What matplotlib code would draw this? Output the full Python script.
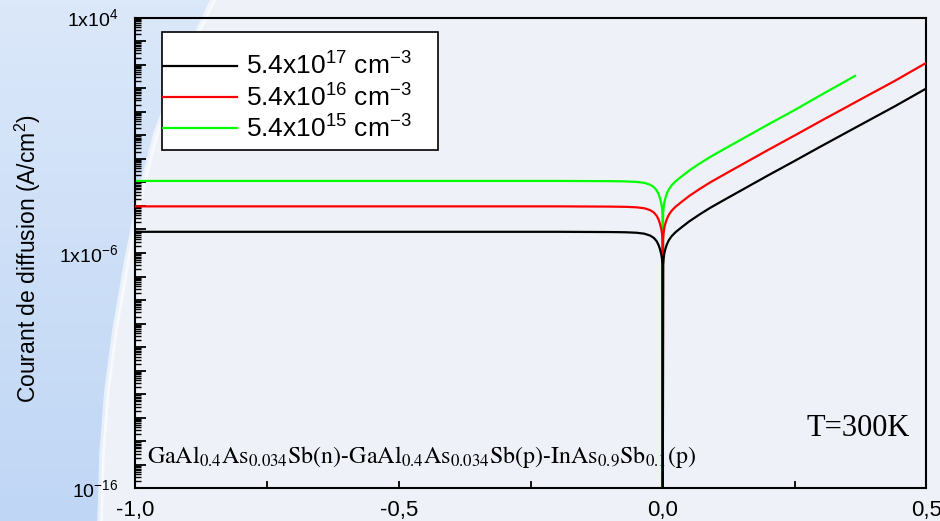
import numpy as np
import matplotlib
matplotlib.use('Agg')
import matplotlib.pyplot as plt
from matplotlib.patches import Polygon, Rectangle
from matplotlib.ticker import LogLocator, NullFormatter

plt.rcParams['font.family'] = 'Liberation Sans'
plt.rcParams['mathtext.fontset'] = 'custom'
plt.rcParams['mathtext.rm'] = 'Liberation Sans'
plt.rcParams['mathtext.it'] = 'Liberation Sans:italic'
plt.rcParams['mathtext.bf'] = 'Liberation Sans:bold'

# bias voltage (V)
v = [-1.0, -0.5, -0.2, -0.1, -0.07, -0.05, -0.035, -0.024, -0.017, -0.0116, -0.008,
     -0.0053, -0.003, -0.0015, -0.0006, 0.0, 0.0006, 0.0015, 0.003, 0.0053, 0.008,
     0.0116, 0.017, 0.024, 0.035, 0.05, 0.07, 0.09, 0.12, 0.16, 0.2, 0.25, 0.3,
     0.374, 0.44, 0.5]
v_15 = v[:33] + [0.3645]

# log10 of |J| (A/cm2); -17.5 marks the zero crossing (off the axis)
logj_17 = [-5.10, -5.10, -5.10, -5.11, -5.12, -5.14, -5.18, -5.26, -5.36, -5.50, -5.66,
           -5.84, -6.05, -6.25, -6.5, -17.5, -6.5, -6.25, -6.0, -5.8, -5.62,
           -5.45, -5.28, -5.12, -4.92, -4.66, -4.36, -4.08, -3.70, -3.20, -2.70, -2.09, -1.47,
           -0.57, 0.23, 0.99]
logj_16 = [-4.02, -4.02, -4.02, -4.03, -4.04, -4.06, -4.10, -4.18, -4.28, -4.42, -4.58,
           -4.76, -4.97, -5.17, -5.42, -17.5, -5.42, -5.17, -4.92, -4.72, -4.54,
           -4.37, -4.20, -4.04, -3.84, -3.58, -3.28, -3.00, -2.62, -2.12, -1.62, -1.01, -0.39,
           0.51, 1.31, 2.08]
logj_15 = [-2.94, -2.94, -2.94, -2.95, -2.96, -2.98, -3.02, -3.10, -3.20, -3.34, -3.50,
           -3.68, -3.89, -4.09, -4.34, -17.5, -4.34, -4.09, -3.84, -3.64, -3.46,
           -3.29, -3.12, -2.96, -2.76, -2.50, -2.20, -1.92, -1.54, -1.04, -0.54, 0.07, 0.71,
           1.52]

labels = [r'$5.4\mathrm{x}10^{17}\ \mathrm{cm}^{-3}$',
          r'$5.4\mathrm{x}10^{16}\ \mathrm{cm}^{-3}$',
          r'$5.4\mathrm{x}10^{15}\ \mathrm{cm}^{-3}$']
colors = ['#000000', '#ff0000', '#00ff00']

xticks = [-1.0, -0.75, -0.5, -0.25, 0.0, 0.25, 0.5]
xlabels = ['-1,0', '', '-0,5', '', '0,0', '', '0,5']
ylabeled = {4: r'$1\mathrm{x}10^{4}$', -6: r'$1\mathrm{x}10^{-6}$', -16: r'$10^{-16}$'}

fig = plt.figure(figsize=(9.4, 5.21), dpi=100)
fig.patch.set_facecolor('#eef2f8')

# slide background: blue band on the left with a curved edge
bg = fig.add_axes([0, 0, 1, 1], zorder=-10)
bg.set_xlim(0, 940)
bg.set_ylim(521, 0)
bg.axis('off')
edge_x = [213, 185, 157, 140, 127, 115, 107, 102, 100]
edge_y = [0, 60, 130, 195, 260, 330, 390, 455, 521]
poly = Polygon(list(zip([0] + edge_x + [0], [0] + edge_y + [521])), closed=True,
               facecolor='none', edgecolor='none')
bg.add_patch(poly)
top = np.array([0.86, 0.91, 0.98])
bot = np.array([0.75, 0.84, 0.96])
t = np.linspace(0, 1, 100)[:, None, None]
grad = top + (bot - top) * t
im = bg.imshow(grad, extent=[0, 940, 521, 0], aspect='auto')
im.set_clip_path(poly)
bg.plot(edge_x, edge_y, color='white', lw=4, alpha=0.6)

ax = fig.add_axes([0.1441, 0.0624, 0.8415, 0.904])
ax.set_facecolor('none')

series = [(v, logj_17), (v, logj_16), (v_15, logj_15)]
for (vv, lj), c, lab, z in zip(series, colors, labels, [4, 3, 2]):
    ax.plot(vv, 10.0 ** np.array(lj), color=c, lw=1.6, label=lab, zorder=z)

ax.set_yscale('log')
ax.set_xlim(-1.0, 0.5)
ax.set_ylim(1e-16, 1e4)

decades = np.arange(-16, 5)
ax.set_yticks(10.0 ** decades, labels=[ylabeled.get(d, '') for d in decades])
ax.yaxis.set_minor_locator(LogLocator(base=10, subs=np.arange(2, 10), numticks=200))
ax.yaxis.set_minor_formatter(NullFormatter())
ax.set_xticks(xticks, labels=xlabels)

ax.tick_params(axis='y', which='major', direction='in', length=8, width=1.3,
               labelsize=14, pad=12)
ax.tick_params(axis='y', which='minor', direction='in', length=4.5, width=1.0)
ax.tick_params(axis='x', which='major', direction='in', length=5, width=1.3,
               labelsize=16, pad=8)
for s in ax.spines.values():
    s.set_linewidth(1.5)

ax.set_ylabel(r'Courant de diffusion (A/cm$^{2}$)', fontsize=16.5)
ax.yaxis.set_label_coords(-0.117, 0.489)

# legend box drawn separately so the entries can sit close to its left edge
ax.add_patch(Rectangle((0.0335, 0.7187), 0.3489, 0.2505, transform=ax.transAxes,
                       facecolor='white', edgecolor='black', lw=1.2, zorder=5))
leg = ax.legend(loc='upper left', bbox_to_anchor=(0.0348, 0.925), borderaxespad=0,
                fontsize=19, handlelength=2.8, handletextpad=0.34, borderpad=0,
                labelspacing=0.15, frameon=False)
leg.set_zorder(6)

ax.text(0.914, 0.128, 'T=300K', transform=ax.transAxes, ha='center', va='center',
        fontsize=22, family='Liberation Serif', zorder=1)
ax.text(0.0145, 0.054,
        r'$\mathrm{GaAl}_{0.4}\mathrm{As}_{0.034}\mathrm{Sb(n)\text{-}GaAl}_{0.4}'
        r'\mathrm{As}_{0.034}\mathrm{Sb(p)\text{-}InAs}_{0.9}\mathrm{Sb}_{0.1}\mathrm{(p)}$',
        transform=ax.transAxes, ha='left', va='baseline', fontsize=17.3,
        math_fontfamily='stix', zorder=1)

fig.savefig('out.png', dpi=100)
